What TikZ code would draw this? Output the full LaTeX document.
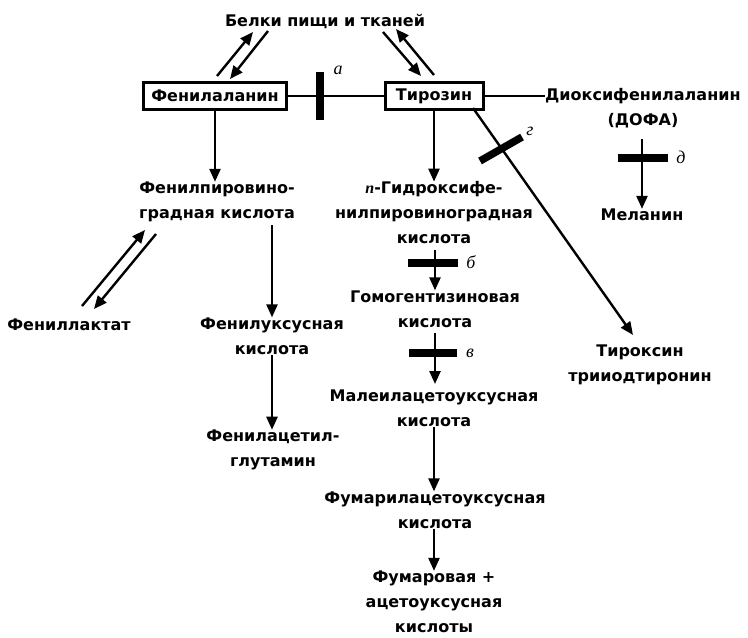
\documentclass[tikz,border=0pt]{standalone}
\usepackage{fontspec}
\setmainfont{DejaVu Sans}
\newfontfamily\labelfont{Liberation Serif}
\usetikzlibrary{arrows.meta,positioning,calc}

\begin{document}
\begin{tikzpicture}[x=1pt, y=-1pt,
    every node/.style={font=\fontsize{16}{25}\selectfont\bfseries, inner sep=0pt},
    txt/.style={align=center},
    box/.style={draw, line width=3pt, minimum height=27pt, inner sep=3pt},
    arr/.style={-{Triangle[length=13pt,width=11pt]}, line width=2.4pt},
    link/.style={line width=2.2pt},
    blockbar/.style={line width=7.5pt},
    lbl/.style={font=\fontsize{18}{20}\selectfont\labelfont\itshape}
  ]
    \useasboundingbox (0,0) rectangle (748,638);
    % main row
    \node[txt] (prot) at (325,21) {Белки пищи и тканей};
    \node[box, minimum width=143pt] (phe) at (215,96) {Фенилаланин};
    \node[box, minimum width=98pt] (tyr) at (434,96) {Тирозин};
    \node[txt, anchor=west] (dopa) at (545,96) {Диоксифенилаланин};
    \node[txt] (dopa2) at (643,121) {(ДОФА)};
    \draw[link] (phe) -- (tyr);
    \draw[link] (tyr) -- (dopa.west |- tyr);
    \draw[blockbar] (320,72) -- (320,120);
    \node[lbl] (a) at (338,70) {а};
    % protein exchange
    \coordinate (p1) at (217,76); \coordinate (p2) at (253,32);
    \coordinate (p3) at (268,31); \coordinate (p4) at (230,79);
    \draw[arr] (p1) -- (p2);
    \draw[arr] (p3) -- (p4);
    \coordinate (t1) at (383,32); \coordinate (t2) at (421,76);
    \coordinate (t3) at (434,75); \coordinate (t4) at (396,29);
    \draw[arr] (t1) -- (t2);
    \draw[arr] (t3) -- (t4);
    % phenylalanine branch
    \node[txt] (ppk) at (217,202) {Фенилпировино-\\градная кислота};
    \draw[arr] (phe) -- (ppk.north -| phe);
    \node[txt] (lact) at (69,325) {Фениллактат};
    \coordinate (l1) at (82,306); \coordinate (l2) at (145,230);
    \coordinate (l3) at (156,234); \coordinate (l4) at (94,309);
    \draw[arr] (l1) -- (l2);
    \draw[arr] (l3) -- (l4);
    \node[txt] (pac) at (272,336) {Фенилуксусная\\кислота};
    \draw[arr] (272,225) -- (pac.north -| 272,0);
    \node[txt] (pag) at (273,450) {Фенилацетил-\\глутамин};
    \draw[arr] (pac.south -| 272,0) -- (pag.north -| 272,0);
    % tyrosine branch
    \node[txt] (hpp) at (434,213) {{\labelfont\itshape п}-Гидроксифе-\\нилпировиноградная\\кислота};
    \draw[arr] (tyr) -- (hpp);
    \node[txt] (hga) at (435,309) {Гомогентизиновая\\кислота};
    \draw[arr] (435,250) -- (hga);
    \draw[blockbar] (408,263) -- (458,263);
    \node[lbl] (b) at (471,262) {б};
    \node[txt] (maa) at (434,408) {Малеилацетоуксусная\\кислота};
    \draw[arr] (435,333) -- (435,384);
    \draw[blockbar] (409,353) -- (457,353);
    \node[lbl] (v) at (470,353) {в};
    \node[txt] (faa) at (435,510) {Фумарилацетоуксусная\\кислота};
    \draw[arr] (maa.south -| 434,0) -- (faa.north -| 434,0);
    \node[txt] (fum) at (434,602) {Фумаровая +\\ацетоуксусная\\кислоты};
    \draw[arr] (faa.south -| 434,0) -- (fum.north -| 434,0);
    % thyroid hormones
    \node[txt] (thy) at (640,365) {Тироксин\\трииодтиронин};
    \coordinate (y1) at (473,108); \coordinate (y2) at (633,335);
    \draw[arr] (y1) -- (y2);
    \draw[blockbar] (480,161) -- (522,137);
    \node[lbl] (g) at (530,131) {г};
    % melanin
    \node[txt] (mel) at (642,215) {Меланин};
    \draw[arr] (642,139) -- (mel);
    \draw[blockbar] (618,158) -- (668,158);
    \node[lbl] (d) at (681,157) {д};
\end{tikzpicture}
\end{document}
